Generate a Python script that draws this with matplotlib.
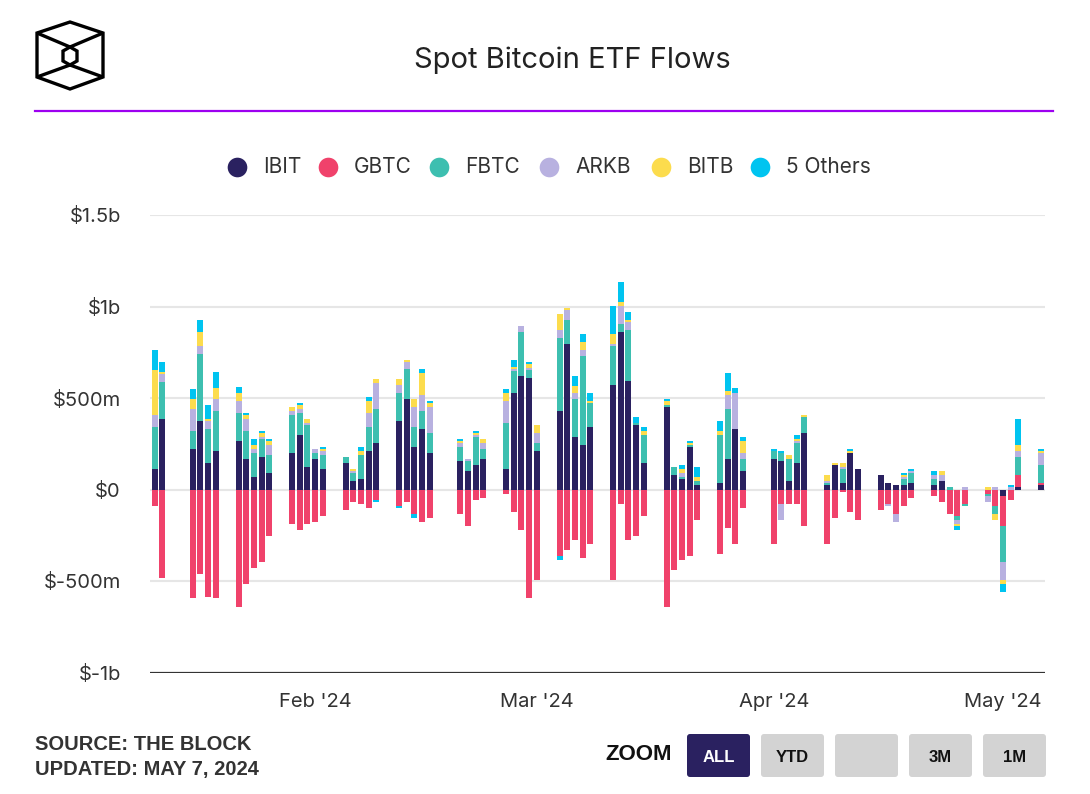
#!/usr/bin/env python3
"""Spot Bitcoin ETF daily flows, stacked by fund (The Block style)."""

import numpy as np
import pandas as pd
import matplotlib
matplotlib.use('Agg')
import matplotlib.pyplot as plt
import matplotlib.dates as mdates
from matplotlib.patches import FancyBboxPatch, Polygon

plt.rcParams['font.family'] = ['Inter', 'DejaVu Sans']
BOLD = ['Liberation Sans', 'DejaVu Sans']

# trading days, Jan 11 - May 6 2024
dates = pd.bdate_range('2024-01-11', '2024-05-06', freq='C',
                       holidays=['2024-01-15', '2024-02-19', '2024-03-29'])

# daily flows in $m
ibit = [110, 386, 221, 375, 143, 210, 265, 165, 66, 176, 88, 199, 298, 121,
        165, 110, 143, 44, 55, 210, 254, 375, 496, 232, 331, 199, 154, 99, 132, 165, 110, 529, 618, 607,
        210, 430, 794, 287, 243, 342, 573, 860, 595, 353, 143, 452, 77, 55, 232, 22, 33, 165, 331, 99,
        165, 154, 44, 143, 309, 22, 132, 33, 199, 110, 77, 33, 22, 22, 33, 22, 44, 0, 0, 0, 0, 0,
        -33, 0, 11, 22]
gbtc = [-88, -485, -595, -463, -585, -595, -640, -518, -430, -397, -254, -187, -221, -187,
        -176, -143, -110, -66, -77, -99, -55, -88, -66, -132, -176, -154, -132, -199, -55, -44, -22, -121, -221, -595,
        -496, -364, -331, -276, -375, -298, -496, -77, -276, -254, -143, -640, -441, -386, -364, -165, -353, -210, -298, -99,
        -298, -77, -77, -77, -199, -298, -154, -11, -121, -165, -110, -77, -132, -88, -44, -33, -66, -132, -143, -77, -22, -88,
        -165, -55, 66, 11]
fbtc = [232, 199, 99, 364, 187, 221, 154, 154, 132, 99, 99, 210, 121, 232,
        33, 77, 33, 44, 132, 132, 187, 154, 165, 110, 99, 110, 77, 55, 154, 55, 254, 121, 243, 44,
        44, 397, 132, 210, 485, 132, 210, 44, 276, 11, 154, 11, 44, 11, 11, 22, 265, 276, 0, 66,
        44, 44, 121, 110, 88, 11, 0, 77, 0, 0, 0, 0, 0, 33, 55, 33, 0, 11, -22, -11, -11, -44,
        -199, 0, 99, 99]
arkb = [66, 44, 121, 44, 44, 66, 66, 66, 22, 11, 55, 22, 22, 11,
        22, 22, 0, 11, 0, 77, 143, 44, 33, 110, 88, 143, 22, 11, 11, 33, 121, 11, 33, 11,
        55, 44, 55, 33, 33, 0, 11, 99, 44, 0, 0, 0, 0, 22, 0, 0, 0, 77, 199, 33,
        0, -88, 0, 11, 0, 11, 0, 11, 0, 0, 0, -11, -44, 11, 11, 22, 33, 0, -22, 11, -33, 11,
        -99, 11, 33, 66]
bitb = [243, 11, 55, 77, 11, 55, 44, 22, 22, 22, 22, 22, 22, 22,
        0, 11, 0, 11, 22, 66, 22, 33, 11, 44, 121, 22, 11, 0, 11, 22, 44, 11, 0, 22,
        44, 88, 11, 33, 44, 11, 55, 22, 11, 0, 22, 22, 0, 22, 11, 22, 22, 22, 0, 66,
        0, 0, 22, 11, 11, 33, 11, 22, 11, 0, 0, 0, 0, 11, 0, 0, 22, 0, -11, 0, 11, -33,
        -22, 0, 33, 11]
others = [110, 55, 55, 66, 77, 88, 33, 11, 33, 11, 11, 0, 11, 0,
          0, 11, 0, 0, 22, 22, -11, -11, 0, -22, 22, 11, 11, 0, 11, 0, 22, 33, 0, 11,
          0, -22, 0, 55, 44, 44, 154, 110, 44, 33, 22, 11, 0, 22, 11, 55, 55, 99, 22, 22,
          11, 11, 0, 22, 0, 0, 0, 0, 11, 0, 0, 0, 0, 11, 11, 22, 0, 0, -22, 0, 0, 0,
          -44, 11, 143, 11]

names = ['IBIT', 'GBTC', 'FBTC', 'ARKB', 'BITB', '5 Others']
colors = ['#2a2160', '#f0426b', '#3dbfb0', '#b8b1e0', '#fcdc4d', '#00c4f0']
series = [ibit, gbtc, fbtc, arkb, bitb, others]

fig = plt.figure(figsize=(10.9, 7.94), dpi=100)

# pixel-space overlay for header, legend and footer
deco = fig.add_axes([0, 0, 1, 1], zorder=0)
deco.set_xlim(0, 1090)
deco.set_ylim(794, 0)
deco.axis('off')

ax = fig.add_axes([150/1090, 1 - 672.5/794, 895/1090, 457.5/794], zorder=1)
ax.patch.set_alpha(0)

pos = np.zeros(len(dates))
neg = np.zeros(len(dates))
for vals, col in zip(series, colors):
    v = np.array(vals, dtype=float)
    bottom = np.where(v >= 0, pos, neg)
    ax.bar(dates, v, bottom=bottom, width=0.785, color=col, linewidth=0, zorder=3)
    pos += np.clip(v, 0, None)
    neg += np.clip(v, None, 0)

ax.set_ylim(-1000, 1500)
ax.set_xlim(mdates.date2num(dates[0]) - 0.59, mdates.date2num(dates[-1]) + 0.49)

yt = [-1000, -500, 0, 500, 1000, 1500]
ax.set_yticks(yt)
ax.set_yticklabels(['$-1b', '$-500m', '$0', '$500m', '$1b', '$1.5b'])
for y in yt[1:]:
    ax.axhline(y, color='#e6e6e6', lw=1.5, zorder=1)
ax.axhline(-1000, color='#333333', lw=1.6, zorder=4)

xt = pd.to_datetime(['2024-02-01', '2024-03-01', '2024-04-01', '2024-05-01'])
ax.set_xticks(xt)
ax.set_xticklabels(["Feb '24", "Mar '24", "Apr '24", "May '24"])
ax.tick_params(axis='both', length=0, labelsize=14.5, labelcolor='#333333')
ax.tick_params(axis='y', pad=21)
ax.tick_params(axis='x', pad=15)
for s in ax.spines.values():
    s.set_visible(False)

# logo
lk = dict(color='black', lw=2.4, solid_joinstyle='miter', solid_capstyle='butt')
deco.add_patch(Polygon([(70, 22), (103, 33), (103, 77), (70, 89), (37, 77), (37, 33)],
                       closed=True, fill=False, ec='black', lw=2.4, joinstyle='miter'))
deco.add_patch(Polygon([(70, 47), (77, 51), (77, 61), (70, 65), (63, 61), (63, 51)],
                       closed=True, fill=False, ec='black', lw=2.4, joinstyle='miter'))
deco.plot([37, 70, 103], [33, 47, 33], **lk)
deco.plot([37, 70, 103], [77, 65, 77], **lk)

deco.text(572, 60, 'Spot Bitcoin ETF Flows', ha='center', va='center',
          fontsize=21, color='#222222')
deco.plot([35, 1053], [111, 111], color='#9d00f0', lw=1.6)

# legend
leg_x = [237, 328, 439, 549, 661, 760]
for x, name, col in zip(leg_x, names, colors):
    deco.scatter([x], [167], s=200, color=col, linewidths=0)
    deco.text(x + 26, 167, name, ha='left', va='center', fontsize=15, color='#333333')

# footer
deco.text(35, 745, 'SOURCE: THE BLOCK', ha='left', va='center', fontsize=14.5,
          fontweight='bold', color='#333333', family=BOLD)
deco.text(35, 769, 'UPDATED: MAY 7, 2024', ha='left', va='center', fontsize=14.5,
          fontweight='bold', color='#333333', family=BOLD)
deco.text(639, 755, 'ZOOM', ha='center', va='center', fontsize=16,
          fontweight='bold', color='#111111', family=BOLD)
btn_labels = ['ALL', 'YTD', '', '3M', '1M']
for i, lab in enumerate(btn_labels):
    x0 = 687 + i * 74
    active = i == 0
    deco.add_patch(FancyBboxPatch((x0, 734), 63, 43,
                                  boxstyle='round,pad=0,rounding_size=3',
                                  fc='#2a2160' if active else '#d3d3d3', ec='none'))
    deco.text(x0 + 31.5, 757, lab, ha='center', va='center', fontsize=12,
              fontweight='bold', color='white' if active else '#111111', family=BOLD)

fig.savefig('out.png', dpi=100)
